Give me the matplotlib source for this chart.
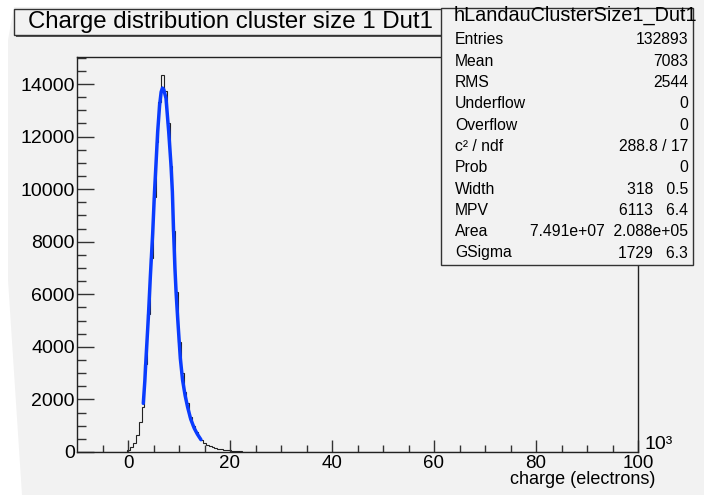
#charge distribution for cluster size 1, with the landau-gauss fit on top (ROOT style)

import numpy as np
import matplotlib.pyplot as plt
from matplotlib.patches import Rectangle, Polygon

plt.rcParams['font.family'] = ['Liberation Sans', 'DejaVu Sans']

#histogram: 200 bins from -10 to 100 (x1000 electrons), counts
nbins = 200
xlo, xhi = -10.0, 100.0
first_bin = 17
counts = [10, 60, 180, 330, 650, 1150, 1700, 3350, 5250, 7400,
          9700, 11800, 13300, 14350, 13750, 12500, 10900, 8400, 6100, 4200,
          3000, 2300, 1850, 1350, 1000, 760, 580, 440, 340, 270,
          220, 185, 155, 130, 110, 95, 80, 65, 50, 40,
          30, 20, 12, 6, 3]

#fitted landau*gauss curve
fit_x = [3.0, 3.3, 3.53, 3.98, 4.38, 4.84, 5.2, 5.5, 5.82, 6.2, 6.5, 6.75, 7.0,
         7.45, 7.98, 8.43, 8.7, 8.95, 9.2, 9.45, 9.74, 10.26, 10.7, 11.2,
         11.7, 12.3, 13.0, 13.6, 14.3]
fit_y = [1850, 2700, 3560, 5090, 6670, 8320, 9900, 11000, 12190, 13200, 13700,
         13850, 13800, 13460, 12190, 10920, 9900, 8320, 7000, 6000, 5090, 3560,
         2740, 2150, 1700, 1250, 900, 680, 470]

title = "Charge distribution cluster size 1 Dut1"
hist_name = "hLandauClusterSize1_Dut1"
stat_labels = ["Entries", "Mean", "RMS", "Underflow", "Overflow", "c\u00b2 / ndf",
               "Prob", "Width", "MPV", "Area", "GSigma"]
stat_values = ["132893", "7083", "2544", "0", "0", "288.8 / 17", "0",
               "318   0.5", "6113   6.4", "7.491e+07  2.088e+05", "1729   6.3"]

W, H = 704, 495
bg = '#f2f2f2'

def fx(px):
    return px / W

def fy(py):
    return 1 - py / H

fig = plt.figure(figsize=(W / 100, H / 100), dpi=100, facecolor=bg)

#white bits of the screenshot border
fig.patches.append(Polygon([(fx(0), fy(0)), (fx(440), fy(0)), (fx(440), fy(7)),
                            (fx(14), fy(7)), (fx(8), fy(40)), (fx(8), fy(280)),
                            (fx(22), fy(495)), (fx(0), fy(495))],
                           closed=True, transform=fig.transFigure,
                           facecolor='white', edgecolor='none', zorder=0))

ax = fig.add_axes([fx(77), fy(452), fx(638) - fx(77), fy(57) - fy(452)])
ax.set_facecolor(bg)

edges = xlo + np.arange(nbins + 1) * (xhi - xlo) / nbins
vals = np.zeros(nbins)
vals[first_bin:first_bin + len(counts)] = counts

ax.stairs(vals, edges, color='#222222', lw=0.8)
ax.plot(fit_x, fit_y, color='#0a3cff', lw=2.5, solid_capstyle='round')

ax.set_xlim(xlo, xhi)
ax.set_ylim(0, 15030)
ax.set_xticks(np.arange(0, 101, 20))
ax.set_xticks(np.arange(-5, 101, 5), minor=True)
ax.set_yticks(np.arange(0, 14001, 2000))
ax.set_yticks(np.arange(0, 15001, 500), minor=True)

ax.tick_params(axis='both', which='both', direction='in', top=False, right=False,
               color='#333333')
ax.tick_params(axis='y', which='major', length=12, width=1, pad=1.5, labelsize=14)
ax.tick_params(axis='y', which='minor', length=6.5, width=1)
ax.tick_params(axis='x', which='major', length=8.5, width=1, pad=2, labelsize=13.5)
ax.tick_params(axis='x', which='minor', length=5, width=1)
for s in ax.spines.values():
    s.set_linewidth(1)
    s.set_color('#222222')

fig.text(fx(644), fy(449), "10\u00b3", fontsize=14, ha='left', va='baseline')
fig.text(fx(655), fy(479), "charge (electrons)", fontsize=13, ha='right', va='center')

#title box with shadow
fig.patches.append(Rectangle((fx(16), fy(37)), fx(431) , fy(11) - fy(37),
                             transform=fig.transFigure, facecolor='#555555',
                             edgecolor='none', zorder=3))
fig.patches.append(Rectangle((fx(14), fy(35)), fx(431), fy(9) - fy(35),
                             transform=fig.transFigure, facecolor=bg,
                             edgecolor='#333333', lw=1, zorder=4))
fig.text(fx(28), fy(22), title, fontsize=17.3, ha='left', va='center', zorder=5)

#stats box
fig.patches.append(Rectangle((fx(441), fy(265)), fx(252), fy(8) - fy(265),
                             transform=fig.transFigure, facecolor=bg,
                             edgecolor='#333333', lw=1, zorder=6))
fig.text(fx(454), fy(15), hist_name, fontsize=14.3, ha='left', va='center', zorder=7)
for i, (lab, val) in enumerate(zip(stat_labels, stat_values)):
    y = fy(40 + 21.3 * i)
    fig.text(fx(455), y, lab, fontsize=11.3, ha='left', va='center', zorder=7)
    fig.text(fx(688), y, val, fontsize=11.3, ha='right', va='center', zorder=7)

fig.savefig("out.png", dpi=100, facecolor=bg)
